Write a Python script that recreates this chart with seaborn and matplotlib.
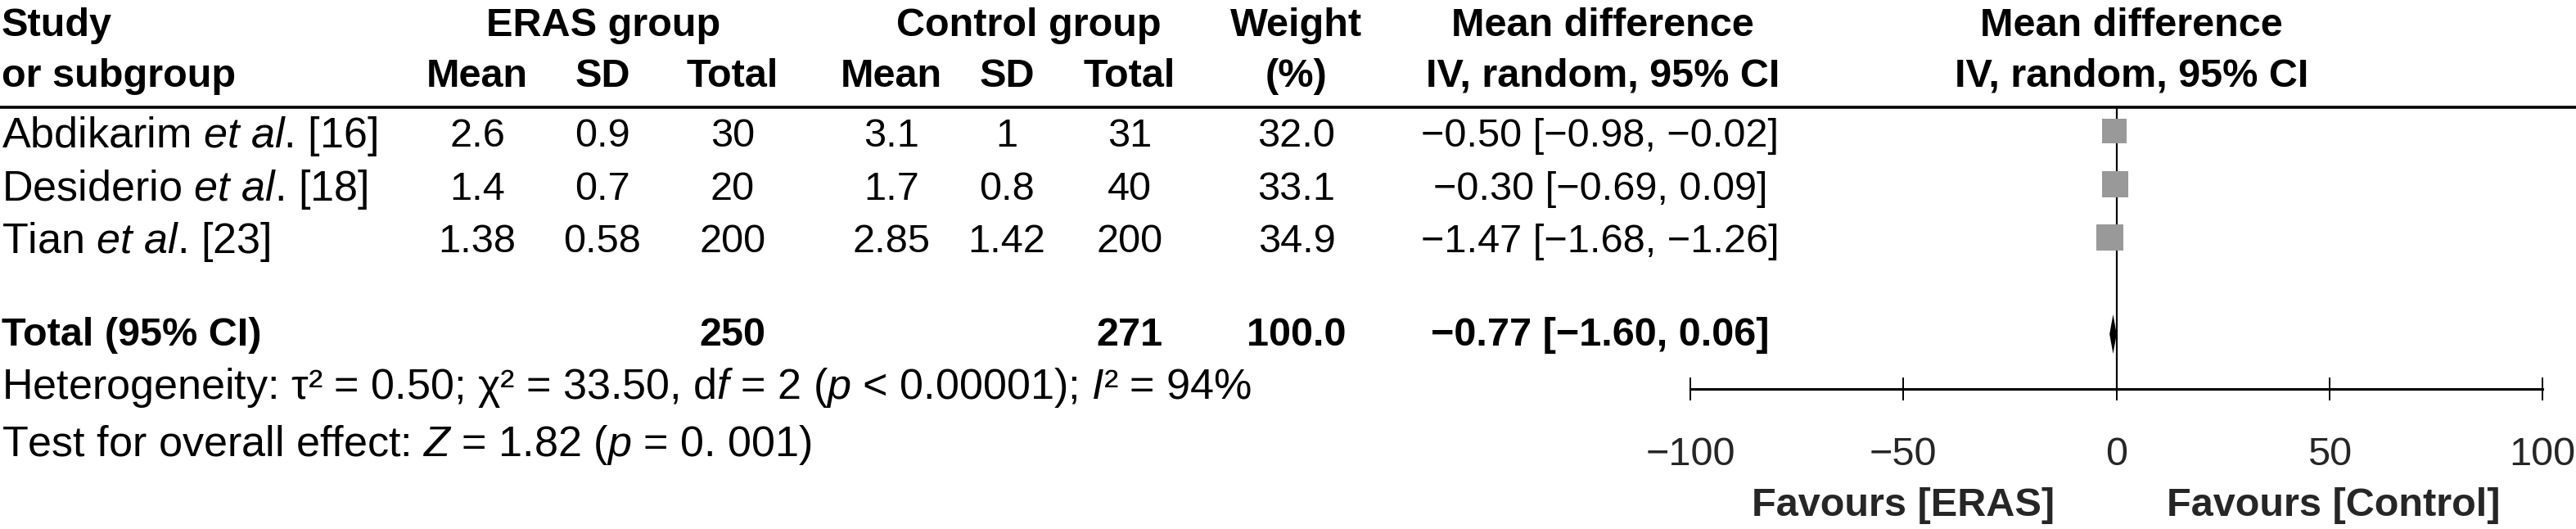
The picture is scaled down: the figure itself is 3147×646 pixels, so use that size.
import matplotlib
matplotlib.use("Agg")
import matplotlib.pyplot as plt
import seaborn as sns
import pandas as pd
from matplotlib.lines import Line2D

# ---- data ----
study_names = ["Abdikarim", "Desiderio", "Tian"]
study_refs = ["[16]", "[18]", "[23]"]
eras_mean = [2.6, 1.4, 1.38]
eras_sd = [0.9, 0.7, 0.58]
eras_total = [30, 20, 200]
ctrl_mean = [3.1, 1.7, 2.85]
ctrl_sd = [1, 0.8, 1.42]
ctrl_total = [31, 40, 200]
weight = [32.0, 33.1, 34.9]
md = [-0.50, -0.30, -1.47]
md_low = [-0.98, -0.69, -1.68]
md_high = [-0.02, 0.09, -1.26]

total_eras = 250
total_ctrl = 271
total_weight = 100.0
total_md = -0.77
total_low = -1.60
total_high = 0.06

x_ticks = [-100, -50, 0, 50, 100]
heterogeneity = "Heterogeneity: τ² = 0.50; χ² = 33.50, d$\\mathit{f}$ = 2 ($\\mathit{p}$ < 0.00001); $\\mathit{I}$² = 94%"
overall = "Test for overall effect: $\\mathit{Z}$ = 1.82 ($\\mathit{p}$ = 0. 001)"

sns.set_theme(style="white")
FONT = "Liberation Sans"
plt.rcParams["font.family"] = [FONT, "DejaVu Sans"]
plt.rcParams["mathtext.fontset"] = "custom"
plt.rcParams["mathtext.rm"] = FONT
plt.rcParams["mathtext.it"] = FONT + ":italic"
plt.rcParams["mathtext.bf"] = FONT + ":bold"

W, H = 3147, 646
FS = 35       # numbers and bold headings
FS_TXT = 37.5  # running text (study names, footnotes)
fig = plt.figure(figsize=(W / 100, H / 100), dpi=100)


def put(x, y, s, ha="center", bold=False, size=FS):
    # +6 px: va="center" sits a little high for this face
    fig.text(x / W, 1 - (y + 6) / H, s, ha=ha, va="center", fontsize=size,
             fontweight="bold" if bold else "normal", color="black")


def fmt_md(v):
    return f"{v:.2f}".replace("-", "\u2212")


# column centres (pixels)
c_eras = [583, 736, 895]
c_ctrl = [1089, 1230, 1380]
c_weight = 1584
c_md = 1955

# header
put(2, 26, "Study", ha="left", bold=True)
put(2, 87, "or subgroup", ha="left", bold=True)
put(737, 26, "ERAS group", bold=True)
put(1257, 26, "Control group", bold=True)
for cols in (c_eras, c_ctrl):
    for x, lab in zip(cols, ["Mean", "SD", "Total"]):
        put(x, 87, lab, bold=True)
put(c_weight, 26, "Weight", bold=True)
put(c_weight, 87, "(%)", bold=True)
put(1958, 26, "Mean difference", bold=True)
put(1958, 87, "IV, random, 95% CI", bold=True)
put(2604, 26, "Mean difference", bold=True)
put(2604, 87, "IV, random, 95% CI", bold=True)

fig.add_artist(Line2D([0, 1], [1 - 131 / H] * 2, transform=fig.transFigure,
                      color="black", lw=2.6))

row_y = [160, 225, 290]
for i, y in enumerate(row_y):
    put(2, y, f"{study_names[i]} $\\mathit{{et\\ al}}$. {study_refs[i]}", ha="left", size=FS_TXT)
    for x, v in zip(c_eras, [eras_mean[i], eras_sd[i], eras_total[i]]):
        put(x, y, f"{v:g}")
    for x, v in zip(c_ctrl, [ctrl_mean[i], ctrl_sd[i], ctrl_total[i]]):
        put(x, y, f"{v:g}")
    put(c_weight, y, f"{weight[i]:.1f}")
    put(c_md, y, f"{fmt_md(md[i])} [{fmt_md(md_low[i])}, {fmt_md(md_high[i])}]")

total_y = 404
put(2, total_y, "Total (95% CI)", ha="left", bold=True)
put(c_eras[2], total_y, f"{total_eras}", bold=True)
put(c_ctrl[2], total_y, f"{total_ctrl}", bold=True)
put(c_weight, total_y, f"{total_weight:.1f}", bold=True)
put(c_md, total_y, f"{fmt_md(total_md)} [{fmt_md(total_low)}, {fmt_md(total_high)}]", bold=True)
put(2, 468, heterogeneity, ha="left", size=FS_TXT)
put(2, 537, overall, ha="left", size=FS_TXT)

# ---- forest panel ----
ax = fig.add_axes([2065 / W, 0, 1041 / W, 1])
ax.patch.set_visible(False)
ax.set_xlim(-100, 100)
ax.set_ylim(H, 0)

df = pd.DataFrame({"md": md, "row": row_y, "weight": weight})
ax.hlines(row_y, md_low, md_high, color="black", lw=1.2, zorder=2)
sns.scatterplot(data=df, x="md", y="row", size="weight", sizes=(470, 560),
                size_norm=(min(weight), max(weight)), marker="s",
                color="#999999", linewidth=0, legend=False, ax=ax, zorder=3)

ax.plot([0, 0], [131, 475], color="black", lw=1.6, zorder=1)
dy = 408
ax.fill([total_low, total_md, total_high, total_md], [dy, dy - 24, dy, dy + 24],
        color="black", lw=0, zorder=4)

for s in ["top", "right", "left"]:
    ax.spines[s].set_visible(False)
ax.spines["bottom"].set_position(("data", 475))
ax.spines["bottom"].set_linewidth(2.2)
ax.spines["bottom"].set_color("black")
ax.set_xticks(x_ticks)
ax.set_yticks([])
ax.tick_params(axis="x", direction="inout", length=20, width=1.4, color="black",
               labelsize=FS, pad=32, bottom=True)
ax.set_xlabel("")
ax.set_ylabel("")

ax.text(-50, 618, "Favours [ERAS]", ha="center", va="center", fontsize=FS, fontweight="bold")
ax.text(51, 618, "Favours [Control]", ha="center", va="center", fontsize=FS, fontweight="bold")

fig.savefig("out.png", dpi=100)
